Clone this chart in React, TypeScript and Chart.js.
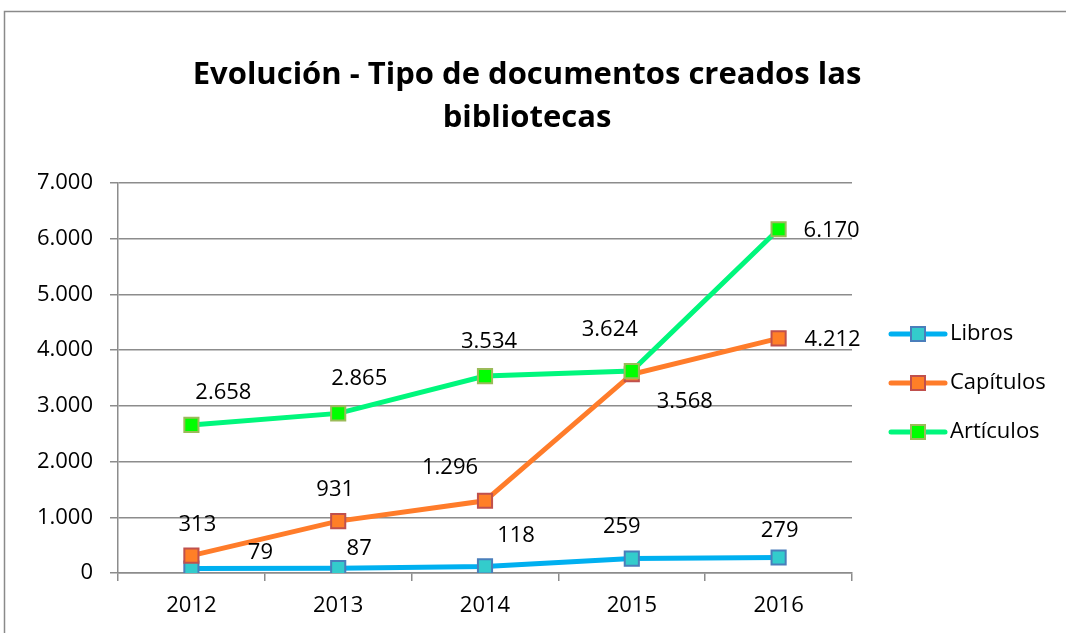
import React, { useEffect, useRef } from 'react';
import { Chart, registerables } from 'chart.js';

Chart.register(...registerables);

const years = ['2012', '2013', '2014', '2015', '2016'];
const libros = [79, 87, 118, 259, 279];
const capitulos = [313, 931, 1296, 3568, 4212];
const articulos = [2658, 2865, 3534, 3624, 6170];
const seriesNames = ['Libros', 'Capítulos', 'Artículos'];
const titleLines = ['Evolución - Tipo de documentos creados las', 'bibliotecas'];
const yMin = 0;
const yMax = 7000;
const yStep = 1000;

// pixel offsets of each data label from its point
const librosLabelOffsets = [[69, -16], [21, -19], [31, -31], [-10, -32], [1, -27]];
const capitulosLabelOffsets = [[6, -31], [-3, -31], [-35, -33], [53, 28], [54, 1]];
const articulosLabelOffsets = [[32, -32], [21, -35], [4, -34], [-22, -41], [53, 1]];

const FONT = "'Open Sans', 'Noto Sans', sans-serif";
const GRID = '#8c8c8c';

const fmt = (v: number) => String(Math.round(v)).replace(/\B(?=(\d{3})+(?!\d))/g, '.');

const frameAndTitle = {
  id: 'frameAndTitle',
  beforeDraw(chart: any) {
    const ctx = chart.ctx;
    ctx.save();
    ctx.fillStyle = '#fff';
    ctx.fillRect(0, 0, chart.width, chart.height);
    ctx.strokeStyle = '#8a8a8a';
    ctx.lineWidth = 1.5;
    ctx.strokeRect(4.5, 11.5, chart.width + 20, chart.height + 20);
    ctx.fillStyle = '#000';
    ctx.font = `bold 31px ${FONT}`;
    ctx.textAlign = 'center';
    ctx.textBaseline = 'middle';
    ctx.fillText(titleLines[0], 527, 75);
    ctx.fillText(titleLines[1], 527, 118);
    ctx.restore();
  },
};

const customLegend = {
  id: 'customLegend',
  afterDraw(chart: any) {
    const ctx = chart.ctx;
    ctx.save();
    chart.data.datasets.forEach((ds: any, i: number) => {
      const y = 334 + i * 49;
      ctx.strokeStyle = ds.borderColor;
      ctx.lineWidth = 5;
      ctx.lineCap = 'round';
      ctx.beginPath();
      ctx.moveTo(891, y);
      ctx.lineTo(945, y);
      ctx.stroke();
      ctx.fillStyle = ds.pointBackgroundColor;
      ctx.fillRect(911, y - 7, 14, 14);
      ctx.strokeStyle = ds.pointBorderColor;
      ctx.lineWidth = 2;
      ctx.strokeRect(911, y - 7, 14, 14);
      ctx.fillStyle = '#000';
      ctx.font = `22px ${FONT}`;
      ctx.textAlign = 'left';
      ctx.textBaseline = 'middle';
      ctx.fillText(ds.label, 950, y);
    });
    ctx.restore();
  },
};

const dataLabels = {
  id: 'dataLabels',
  afterDatasetsDraw(chart: any) {
    const ctx = chart.ctx;
    ctx.save();
    ctx.fillStyle = '#000';
    ctx.font = `22px ${FONT}`;
    ctx.textAlign = 'center';
    ctx.textBaseline = 'middle';
    chart.data.datasets.forEach((ds: any, i: number) => {
      const meta = chart.getDatasetMeta(i);
      meta.data.forEach((pt: any, j: number) => {
        const off = ds.labelOffsets[j];
        ctx.fillText(fmt(ds.data[j]), pt.x + off[0], pt.y + off[1]);
      });
    });
    ctx.restore();
  },
};

export default function App() {
  const ref = useRef<HTMLCanvasElement>(null);
  useEffect(() => {
    Chart.defaults.font.family = FONT;
    const mk = (label: string, data: number[], line: string, fill: string, border: string, order: number, offsets: number[][]) => ({
      label,
      data,
      borderColor: line,
      backgroundColor: line,
      borderWidth: 5,
      pointStyle: 'rect',
      pointRadius: 10,
      pointHoverRadius: 10,
      pointBackgroundColor: fill,
      pointBorderColor: border,
      pointBorderWidth: 2,
      tension: 0,
      order,
      labelOffsets: offsets,
    });
    const chart = new Chart(ref.current!, {
      type: 'line',
      data: {
        labels: years,
        datasets: [
          mk(seriesNames[0], libros, '#00B0F0', '#33CCCC', '#4A7EBB', 3, librosLabelOffsets),
          mk(seriesNames[1], capitulos, '#FF7C2A', '#FF7F27', '#C0504D', 2, capitulosLabelOffsets),
          mk(seriesNames[2], articulos, '#00F77C', '#00FF00', '#9BBB59', 1, articulosLabelOffsets),
        ] as any,
      },
      options: {
        animation: false,
        responsive: false,
        layout: { padding: { left: 0, top: 183, right: 214, bottom: 0 } },
        plugins: {
          legend: { display: false },
          title: { display: false },
          tooltip: { enabled: false },
        },
        scales: {
          x: {
            type: 'category',
            offset: true,
            grid: { display: true, drawOnChartArea: false, drawTicks: true, tickLength: 8, offset: true, color: GRID, lineWidth: 1.5 },
            border: { display: true, color: GRID, width: 1.5 },
            ticks: { color: '#000', font: { size: 22, family: FONT }, padding: 12, maxRotation: 0 },
            afterFit: (s: any) => { s.height = 60; },
          },
          y: {
            min: yMin,
            max: yMax,
            ticks: { stepSize: yStep, color: '#000', font: { size: 22, family: FONT }, padding: 17, callback: (v: any) => fmt(Number(v)) },
            grid: { color: GRID, lineWidth: 1.5, tickLength: 8 },
            border: { display: true, color: GRID, width: 1.5 },
            afterFit: (s: any) => { s.width = 118; },
          },
        },
      } as any,
      plugins: [frameAndTitle, dataLabels, customLegend],
    });
    return () => chart.destroy();
  }, []);
  return (
    <div style={{ position: 'fixed', left: 0, top: 0, width: 1066, height: 633, overflow: 'hidden', background: '#fff' }}>
      <canvas ref={ref} width={1066} height={633} style={{ display: 'block' }} />
    </div>
  );
}
